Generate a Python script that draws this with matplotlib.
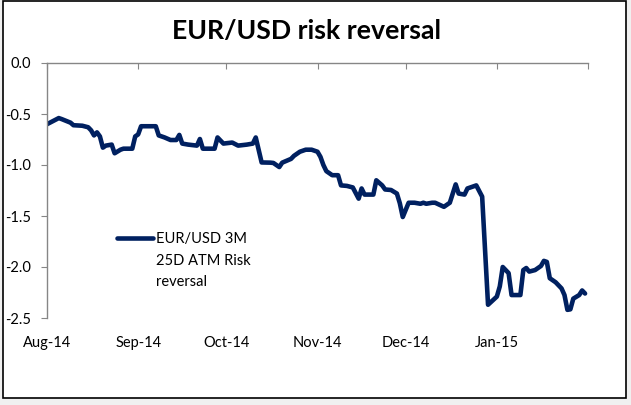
import matplotlib
matplotlib.use("Agg")
import matplotlib.pyplot as plt
from matplotlib.patches import Rectangle
from matplotlib.legend_handler import HandlerLine2D
import pandas as pd

# Risk reversal values (date, vol points)
dates = [
    "2014-08-01", "2014-08-02", "2014-08-05", "2014-08-06", "2014-08-09", "2014-08-10",
    "2014-08-13", "2014-08-15", "2014-08-16", "2014-08-17", "2014-08-18", "2014-08-19",
    "2014-08-20", "2014-08-21", "2014-08-23", "2014-08-24", "2014-08-26", "2014-08-27",
    "2014-08-30", "2014-08-31", "2014-09-01", "2014-09-02", "2014-09-07", "2014-09-08",
    "2014-09-10", "2014-09-12", "2014-09-14", "2014-09-15", "2014-09-16", "2014-09-18",
    "2014-09-21", "2014-09-22", "2014-09-23", "2014-09-25", "2014-09-27", "2014-09-28",
    "2014-09-30", "2014-10-03", "2014-10-05", "2014-10-08", "2014-10-10", "2014-10-11",
    "2014-10-13", "2014-10-16", "2014-10-17", "2014-10-19", "2014-10-20", "2014-10-23",
    "2014-10-24", "2014-10-26", "2014-10-28", "2014-10-30", "2014-11-01", "2014-11-02",
    "2014-11-03", "2014-11-04", "2014-11-06", "2014-11-08", "2014-11-09", "2014-11-11",
    "2014-11-13", "2014-11-15", "2014-11-16", "2014-11-17", "2014-11-20", "2014-11-21",
    "2014-11-23", "2014-11-24", "2014-11-26", "2014-11-28", "2014-11-29", "2014-11-30",
    "2014-12-02", "2014-12-04", "2014-12-06", "2014-12-07", "2014-12-08", "2014-12-10",
    "2014-12-11", "2014-12-14", "2014-12-16", "2014-12-18", "2014-12-19", "2014-12-21",
    "2014-12-22", "2014-12-25", "2014-12-27", "2014-12-29", "2015-01-01", "2015-01-02",
    "2015-01-03", "2015-01-05", "2015-01-06", "2015-01-09", "2015-01-10", "2015-01-11",
    "2015-01-12", "2015-01-14", "2015-01-16", "2015-01-17", "2015-01-18", "2015-01-19",
    "2015-01-21", "2015-01-23", "2015-01-24", "2015-01-25", "2015-01-26", "2015-01-27",
    "2015-01-29", "2015-01-30", "2015-01-31",
]
risk_reversal = [
    -0.60, -0.585, -0.54, -0.55, -0.585, -0.61,
    -0.615, -0.63, -0.66, -0.71, -0.68, -0.72,
    -0.83, -0.81, -0.80, -0.885, -0.85, -0.84,
    -0.84, -0.72, -0.70, -0.62, -0.62, -0.71,
    -0.73, -0.755, -0.755, -0.705, -0.79, -0.80,
    -0.81, -0.745, -0.84, -0.84, -0.84, -0.73,
    -0.79, -0.78, -0.81, -0.80, -0.79, -0.73,
    -0.975, -0.977, -0.98, -1.02, -0.977, -0.94,
    -0.91, -0.87, -0.85, -0.85, -0.87, -0.92,
    -1.00, -1.06, -1.10, -1.10, -1.20, -1.205,
    -1.22, -1.33, -1.23, -1.29, -1.29, -1.15,
    -1.20, -1.24, -1.245, -1.28, -1.375, -1.51,
    -1.37, -1.37, -1.38, -1.37, -1.38, -1.37,
    -1.37, -1.41, -1.37, -1.19, -1.28, -1.29,
    -1.23, -1.20, -1.31, -2.37, -2.29, -2.19,
    -2.00, -2.06, -2.275, -2.275, -2.03, -2.01,
    -2.045, -2.03, -1.99, -1.94, -1.95, -2.11,
    -2.15, -2.21, -2.275, -2.42, -2.415, -2.31,
    -2.275, -2.23, -2.26,
]
series_label = "EUR/USD 3M\n25D ATM Risk\nreversal"
title = "EUR/USD risk reversal"
y_ticks = [0.0, -0.5, -1.0, -1.5, -2.0, -2.5]
month_ticks = ["2014-08-01", "2014-09-01", "2014-10-01", "2014-11-01",
               "2014-12-01", "2015-01-01", "2015-02-01"]
month_labels = ["Aug-14", "Sep-14", "Oct-14", "Nov-14", "Dec-14", "Jan-15", ""]

x = pd.to_datetime(dates)

plt.rcParams['font.family'] = ['Lato', 'DejaVu Sans']

fig = plt.figure(figsize=(6.31, 4.05), dpi=100)
fig.patch.set_facecolor('#f0f0f0')
# white chart area with black frame, like the Excel chart object
fig.patches.append(Rectangle((2.5 / 631, 7 / 405), 623 / 631, 397 / 405,
                             transform=fig.transFigure, facecolor='white',
                             edgecolor='black', linewidth=1.2, zorder=-1))

ax = fig.add_axes([47 / 631, 1 - 318 / 405, 541 / 631, 255 / 405])
ax.set_facecolor('none')

line, = ax.plot(x, risk_reversal, color='#002060', linewidth=3.3,
                solid_joinstyle='round', solid_capstyle='round', label=series_label)

ax.set_ylim(-2.5, 0)
ax.set_yticks(y_ticks)
ax.set_yticklabels(['%.1f' % v for v in y_ticks])
ax.set_xlim(pd.Timestamp(month_ticks[0]), pd.Timestamp(month_ticks[-1]))
ax.set_xticks(pd.to_datetime(month_ticks))
ax.set_xticklabels(month_labels)

gray = '#868686'
for s in ['right', 'bottom']:
    ax.spines[s].set_visible(False)
for s in ['left', 'top']:
    ax.spines[s].set_color(gray)
    ax.spines[s].set_linewidth(1.0)

# the horizontal axis crosses at 0 (top), labels sit low
ax.tick_params(axis='x', top=True, bottom=False, labeltop=False, labelbottom=True,
               direction='in', length=4.5, color=gray, pad=13, labelsize=10.5)
ax.tick_params(axis='y', direction='out', length=4, color=gray, pad=7.5, labelsize=10.5)

# legend handle lined up with the first text line
leg = ax.legend(handles=[line], loc='upper left', frameon=False, fontsize=10.5,
                bbox_to_anchor=(117 / 631, 1 - 210 / 405), bbox_transform=fig.transFigure,
                handlelength=2.45, handletextpad=0.25, handleheight=11.2, borderpad=0,
                borderaxespad=0, handler_map={line: HandlerLine2D()})
for t in leg.get_texts():
    t.set_linespacing(1.65)

fig.text(307 / 631, 1 - 31 / 405, title, ha='center', va='center',
         fontsize=19.2, fontweight='bold')

fig.savefig('out.png', dpi=100, facecolor=fig.get_facecolor())
